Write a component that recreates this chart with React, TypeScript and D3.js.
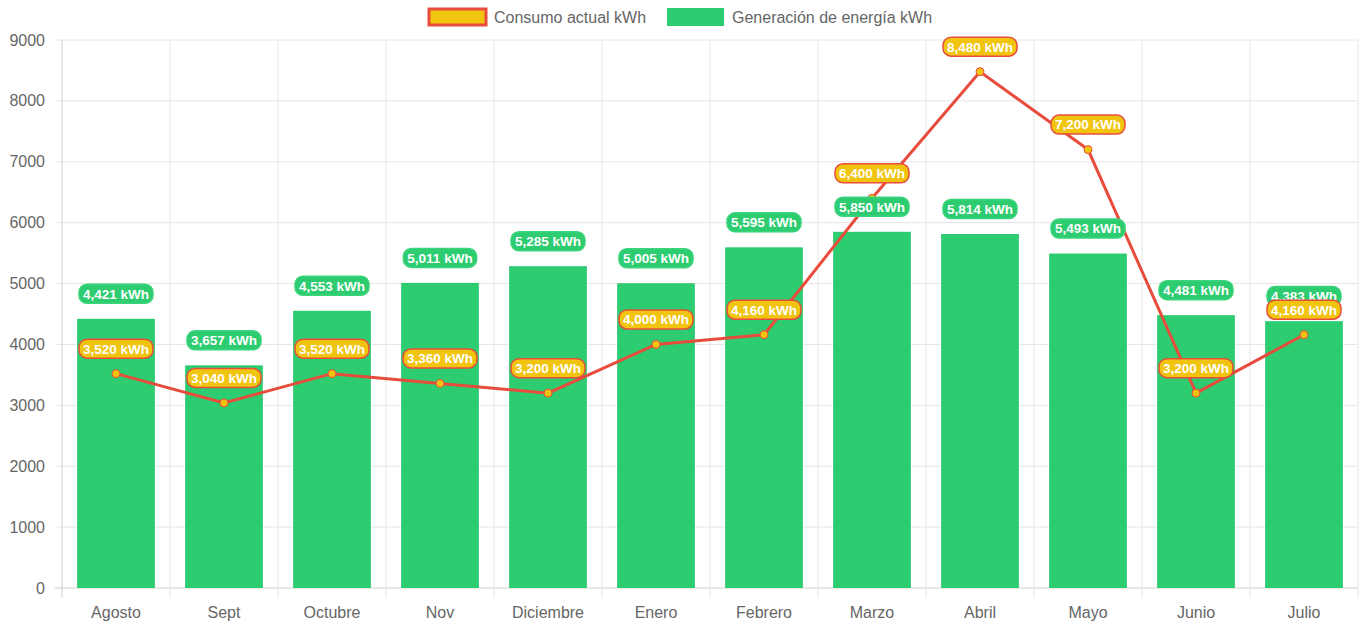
import React, { useEffect, useRef } from 'react';
import * as d3 from 'd3';

const months = ['Agosto', 'Sept', 'Octubre', 'Nov', 'Diciembre', 'Enero', 'Febrero', 'Marzo', 'Abril', 'Mayo', 'Junio', 'Julio'];
const consumo = [3520, 3040, 3520, 3360, 3200, 4000, 4160, 6400, 8480, 7200, 3200, 4160];
const generacion = [4421, 3657, 4553, 5011, 5285, 5005, 5595, 5850, 5814, 5493, 4481, 4383];
const yTicks = [0, 1000, 2000, 3000, 4000, 5000, 6000, 7000, 8000, 9000];

const RED = '#e74c3c';
const YELLOW = '#f1c40f';
const GREEN = '#2ecc71';
const FONT = 'Arial, "Liberation Sans", Helvetica, sans-serif';

const App = () => {
  const ref = useRef<SVGSVGElement>(null);

  useEffect(() => {
    const svg = d3.select(ref.current);
    svg.selectAll('*').remove();

    const W = 1364, H = 626;
    const margin = { top: 40, right: 6, bottom: 38, left: 62 };
    const innerW = W - margin.left - margin.right;
    const innerH = H - margin.top - margin.bottom;

    const x = d3.scaleBand().domain(months).range([0, innerW]);
    const y = d3.scaleLinear().domain([0, 9000]).range([innerH, 0]);

    const g = svg.append('g').attr('transform', `translate(${margin.left},${margin.top})`);

    // grid
    g.selectAll('.hgrid').data(yTicks).enter().append('line')
      .attr('x1', -7).attr('x2', innerW)
      .attr('y1', d => y(d)).attr('y2', d => y(d))
      .attr('stroke', d => d === 0 ? '#cfcfcf' : '#e6e6e6').attr('stroke-width', 1);
    const bounds = months.map(m => x(m)!).concat([innerW]);
    g.selectAll('.vgrid').data(bounds).enter().append('line')
      .attr('x1', d => d).attr('x2', d => d)
      .attr('y1', 0).attr('y2', innerH + 10)
      .attr('stroke', (d, i) => i === 0 ? '#cfcfcf' : '#e6e6e6').attr('stroke-width', 1);

    // y tick labels
    g.selectAll('.ylab').data(yTicks).enter().append('text')
      .attr('x', -17).attr('y', d => y(d)).attr('dy', '0.35em')
      .attr('text-anchor', 'end').attr('fill', '#666').attr('font-size', 16).attr('font-family', FONT)
      .text(d => d);

    // x tick labels
    g.selectAll('.xlab').data(months).enter().append('text')
      .attr('x', d => x(d)! + x.bandwidth() / 2).attr('y', innerH + 24).attr('dy', '0.35em')
      .attr('text-anchor', 'middle').attr('fill', '#666').attr('font-size', 16).attr('font-family', FONT)
      .text(d => d);

    // bars
    const barW = x.bandwidth() * 0.72;
    g.selectAll('.bar').data(generacion).enter().append('rect')
      .attr('x', (d, i) => x(months[i])! + (x.bandwidth() - barW) / 2)
      .attr('y', d => y(d))
      .attr('width', barW)
      .attr('height', d => innerH - y(d))
      .attr('fill', GREEN);

    // line
    const cx = (i: number) => x(months[i])! + x.bandwidth() / 2;
    const line = d3.line<number>().x((d, i) => cx(i)).y(d => y(d));
    g.append('path').datum(consumo).attr('d', line)
      .attr('fill', 'none').attr('stroke', RED).attr('stroke-width', 3);
    g.selectAll('.pt').data(consumo).enter().append('circle')
      .attr('cx', (d, i) => cx(i)).attr('cy', d => y(d)).attr('r', 4)
      .attr('fill', YELLOW).attr('stroke', RED).attr('stroke-width', 1);

    const fmt = d3.format(',');
    const badge = (vals: number[], bg: string, border: string) => {
      vals.forEach((v, i) => {
        const px = cx(i);
        const py = y(v) - 25;
        const label = `${fmt(v)} kWh`;
        const t = g.append('text')
          .attr('x', px).attr('y', py).attr('dy', '0.36em')
          .attr('text-anchor', 'middle').attr('fill', '#fff')
          .attr('font-size', 13.5).attr('font-weight', 'bold').attr('font-family', FONT)
          .text(label);
        const bb = (t.node() as SVGTextElement).getBBox();
        g.insert('rect', () => t.node() as any)
          .attr('x', px - bb.width / 2 - 4).attr('y', py - 9.5)
          .attr('width', bb.width + 8).attr('height', 19)
          .attr('rx', 8).attr('fill', bg).attr('stroke', border).attr('stroke-width', 1.5);
      });
    };
    badge(generacion, GREEN, '#3bd47c');
    badge(consumo, YELLOW, RED);

    // legend
    const lg = svg.append('g');
    lg.append('rect').attr('x', 429).attr('y', 9).attr('width', 57).attr('height', 16)
      .attr('fill', YELLOW).attr('stroke', RED).attr('stroke-width', 3);
    lg.append('text').attr('x', 494).attr('y', 17).attr('dy', '0.35em')
      .attr('fill', '#666').attr('font-size', 16).attr('font-family', FONT).text('Consumo actual kWh');
    lg.append('rect').attr('x', 667).attr('y', 8).attr('width', 57).attr('height', 18)
      .attr('fill', GREEN);
    lg.append('text').attr('x', 732).attr('y', 17).attr('dy', '0.35em')
      .attr('fill', '#666').attr('font-size', 16).attr('font-family', FONT).text('Generación de energía kWh');
  }, []);

  return (
    <svg ref={ref} width={1364} height={626}
      style={{ position: 'absolute', left: 0, top: 0, background: '#fff' }} />
  );
};

export default App;
